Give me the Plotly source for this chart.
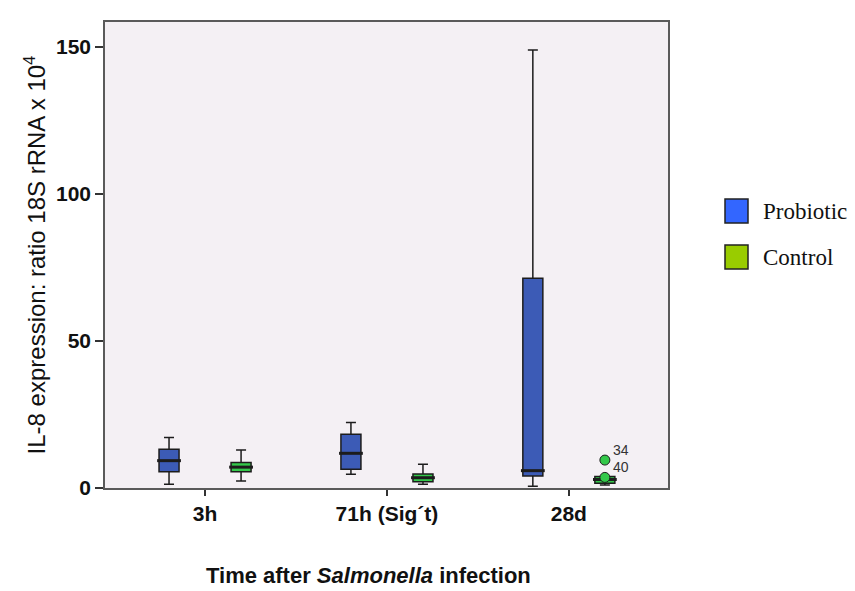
import plotly.graph_objects as go

# Time points after infection (x categories)
categories = ["3h", "71h (Sig´t)", "28d"]
group_names = ["Probiotic", "Control"]

# Box summaries for the probiotic group
probiotic_lower = [1.3, 4.7, 0.6]
probiotic_q1 = [5.5, 6.4, 4.1]
probiotic_median = [9.3, 11.8, 5.9]
probiotic_q3 = [13.2, 18.3, 71.3]
probiotic_upper = [17.2, 22.3, 149.0]

# Box summaries for the control group
control_lower = [2.4, 1.3, 1.0]
control_q1 = [5.5, 2.1, 1.6]
control_median = [7.1, 3.5, 2.9]
control_q3 = [8.7, 4.8, 3.9]
control_upper = [12.9, 8.1, 3.9]

# Labelled outliers (control group)
outlier_category = ["28d", "28d"]
outlier_values = [9.5, 3.6]
outlier_ids = ["34", "40"]

y_ticks = [0, 50, 100, 150]

# Styling
BOX_COLORS = ["#3c5bb6", "#33c84a"]
LEGEND_COLORS = ["#3366ff", "#99cc00"]
EDGE = "#1c1c1c"
OFFSET = 0.198
BOX_W = 0.11
W, H = 855, 591
M = dict(l=105, r=187, t=22, b=103)

fig = go.Figure()

stats = [
    (probiotic_lower, probiotic_q1, probiotic_median, probiotic_q3, probiotic_upper),
    (control_lower, control_q1, control_median, control_q3, control_upper),
]
for g, (lo, q1, med, q3, up) in enumerate(stats):
    sign = -1 if g == 0 else 1
    pos = [i + sign * OFFSET for i in range(len(categories))]
    fig.add_trace(go.Box(
        x=pos, q1=q1, median=med, q3=q3, lowerfence=lo, upperfence=up,
        name=group_names[g], width=BOX_W, whiskerwidth=0.5,
        fillcolor=BOX_COLORS[g], line=dict(color=EDGE, width=1.5),
        boxpoints=False, showlegend=False, hoverinfo="skip",
    ))
    # heavier median bar
    fig.add_trace(go.Scatter(
        x=pos, y=med, mode="markers", showlegend=False, hoverinfo="skip",
        marker=dict(symbol="line-ew", size=17, line=dict(color=EDGE, width=3)),
    ))

out_x = [categories.index(c) + OFFSET for c in outlier_category]
fig.add_trace(go.Scatter(
    x=out_x, y=outlier_values, mode="markers", showlegend=False, hoverinfo="skip",
    marker=dict(symbol="circle", size=10, color=BOX_COLORS[1],
                line=dict(color=EDGE, width=1)),
))
for xv, yv, label in zip(out_x, outlier_values, outlier_ids):
    fig.add_annotation(
        x=xv, y=yv, text=label, showarrow=False, xanchor="left", yanchor="middle",
        xshift=6, yshift=10,
        font=dict(family="Liberation Sans", size=14, color="#333333"),
    )

fig.update_layout(
    width=W, height=H, margin=M,
    paper_bgcolor="white", plot_bgcolor="#f4f0f4",
    showlegend=False,
    xaxis=dict(
        range=[-0.55, 2.545], tickmode="array",
        tickvals=list(range(len(categories))), ticktext=categories,
        ticks="outside", ticklen=6, tickwidth=1.5, tickcolor="#333333",
        showline=True, mirror=True, linecolor="#5a5a5a", linewidth=1.5,
        showgrid=False, zeroline=False,
        tickfont=dict(family="Liberation Sans", size=21, color="#111111", weight="bold"),
    ),
    yaxis=dict(
        range=[0, 158.5], tickvals=y_ticks,
        ticks="outside", ticklen=8, tickwidth=1.5, tickcolor="#333333",
        showline=True, mirror=True, linecolor="#5a5a5a", linewidth=1.5,
        showgrid=False, zeroline=False,
        tickfont=dict(family="Liberation Sans", size=21, color="#111111", weight="bold"),
        title=dict(text="IL-8 expression: ratio 18S rRNA x 10<sup>4</sup>",
                   font=dict(family="Liberation Sans", size=24, color="#111111"),
                   standoff=4),
    ),
)

# x-axis title
plot_w = W - M["l"] - M["r"]
plot_h = H - M["t"] - M["b"]
fig.add_annotation(
    text="<b>Time after <i>Salmonella</i> infection</b>",
    xref="paper", yref="paper", x=(368 - M["l"]) / plot_w, y=-(575 - (H - M["b"])) / plot_h,
    xanchor="center", yanchor="middle", showarrow=False,
    font=dict(family="Liberation Sans", size=22, color="#111111"),
)

# legend: coloured squares with serif labels
for k, name in enumerate(group_names):
    top_px = 199 + k * 46
    x0 = (725 - M["l"]) / plot_w
    x1 = (748 - M["l"]) / plot_w
    y0 = ((H - M["b"]) - (top_px + 24)) / plot_h
    y1 = ((H - M["b"]) - top_px) / plot_h
    fig.add_shape(type="rect", xref="paper", yref="paper", x0=x0, x1=x1, y0=y0, y1=y1,
                  fillcolor=LEGEND_COLORS[k], line=dict(color="#222222", width=1.5))
    fig.add_annotation(
        text=name, xref="paper", yref="paper",
        x=(761 - M["l"]) / plot_w, y=((H - M["b"]) - (top_px + 12)) / plot_h,
        xanchor="left", yanchor="middle", showarrow=False,
        font=dict(family="Liberation Serif", size=23, color="#111111"),
    )

fig.write_html("out.html")
